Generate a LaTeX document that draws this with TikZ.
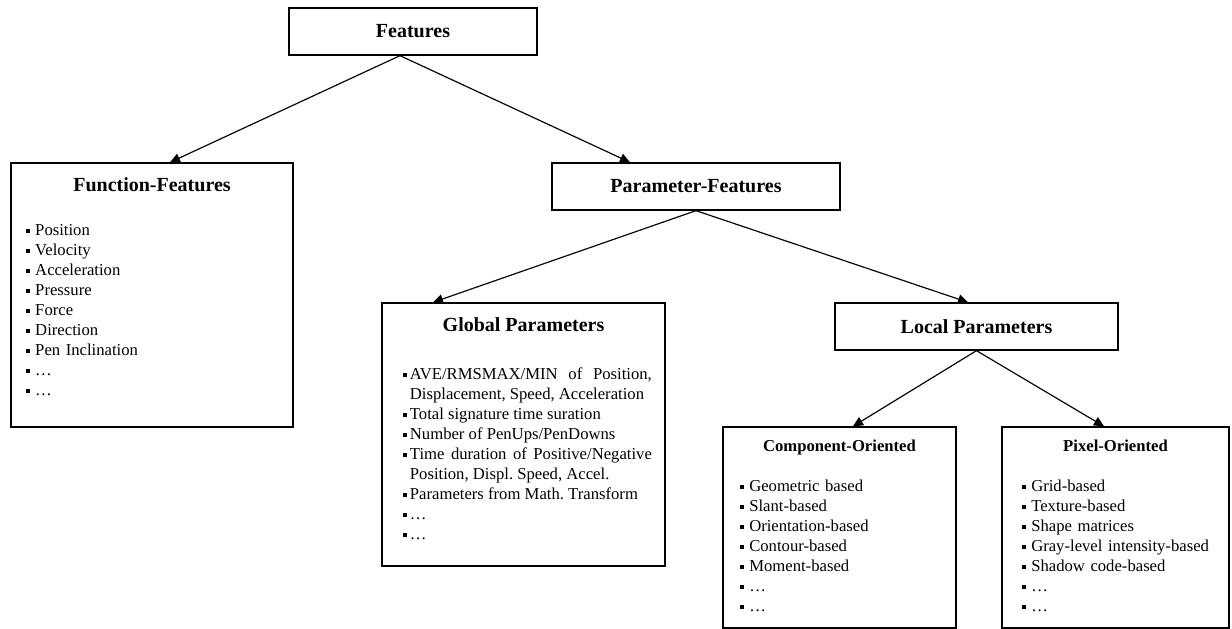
\documentclass[tikz,border=0pt]{standalone}
\usepackage{fontspec}
\setmainfont{Liberation Serif}
\usetikzlibrary{arrows.meta,calc,positioning}

\newlength\bulsep
\setlength\bulsep{5.6pt}
\newcommand{\bul}{\raisebox{1.6pt}{\rule{2.6pt}{2.6pt}}}
\newcommand{\itm}[1]{\par\hangindent=\bulsep\hangafter=1\noindent
  \strut\makebox[\bulsep][l]{\bul}#1}

\begin{document}
\begin{tikzpicture}[x=0.6pt,y=-0.6pt,
    ->,>={Triangle[length=6pt,width=5.6pt]},line width=0.7pt,
    box/.style 2 args={draw,rectangle,line width=0.8pt,inner sep=0pt,
      minimum width=#1*0.6pt,minimum height=#2*0.6pt,
      font=\fontsize{12}{14}\selectfont\bfseries},
    title/.style={anchor=base,inner sep=0pt,font=\fontsize{12}{14}\selectfont\bfseries},
    subtitle/.style={title,font=\fontsize{10}{12}\selectfont\bfseries},
    list/.style={anchor=north west,inner sep=0pt,align=left,
      font=\fontsize{10}{12}\selectfont\frenchspacing}]

  \useasboundingbox (0,0) rectangle (1232,629);

  % boxes
  \node[box={248}{47}]  (feat) at (413,31.5)    {Features};
  \node[box={282}{264}] (ff)   at (152,295)     {};
  \node[box={288}{47}]  (pf)   at (696,186.5)   {Parameter-Features};
  \node[box={283}{263}] (glob) at (523.5,434.5) {};
  \node[box={283}{47}]  (loc)  at (976.5,326.5) {Local Parameters};
  \node[box={233}{201}] (comp) at (839.5,527.5) {};
  \node[box={227}{201}] (pix)  at (1115.5,527.5) {};

  % titles
  \node[title]    (fft)   at ($(ff.north)+(0,29)$)   {Function-Features};
  \node[title]    (globt) at ($(glob.north)+(0,29)$) {Global Parameters};
  \node[subtitle] (compt) at ($(comp.north)+(0,25)$) {Component-Oriented};
  \node[subtitle] (pixt)  at ($(pix.north)+(0,25)$)  {Pixel-Oriented};

  % item lists
  \node[list,text width=240pt] (ffl) at ($(ff.north west)+(15,53)$) {%
    \itm{Position}\itm{Velocity}\itm{Acceleration}\itm{Pressure}%
    \itm{Force}\itm{Direction}\itm{Pen Inclination}\itm{\dots}\itm{\dots}};
  \node[list,align=justify,text width=149.4pt] (globl) at ($(glob.north west)+(21,57)$) {%
    \setlength\bulsep{4.2pt}%
    \itm{AVE/RMSMAX/MIN of Position,\linebreak Displacement, Speed, Acceleration}%
    \itm{Total signature time suration}%
    \itm{Number of PenUps/PenDowns}%
    \itm{Time duration of Positive/Negative\linebreak Position, Displ. Speed, Accel.}%
    \itm{Parameters from Math. Transform}%
    \itm{\dots}\itm{\dots}};
  \node[list,text width=200pt] (compl) at ($(comp.north west)+(17,45)$) {%
    \itm{Geometric based}\itm{Slant-based}\itm{Orientation-based}%
    \itm{Contour-based}\itm{Moment-based}\itm{\dots}\itm{\dots}};
  \node[list,text width=200pt] (pixl) at ($(pix.north west)+(20,45)$) {%
    \itm{Grid-based}\itm{Texture-based}\itm{Shape matrices}%
    \itm{Gray-level intensity-based}\itm{Shadow code-based}\itm{\dots}\itm{\dots}};

  % connectors
  \draw ($(feat.south)+(-13,0)$) -- ($(ff.north)+(18,0)$);
  \draw ($(feat.south)+(-13,0)$) -- ($(pf.north)+(-66,0)$);
  \draw (pf.south) -- ($(glob.north)+(-90.5,0)$);
  \draw (pf.south) -- ($(loc.north)+(-8.5,0)$);
  \draw (loc.south) -- ($(comp.north)+(13.5,0)$);
  \draw (loc.south) -- ($(pix.north)+(-11.5,0)$);
\end{tikzpicture}
\end{document}
